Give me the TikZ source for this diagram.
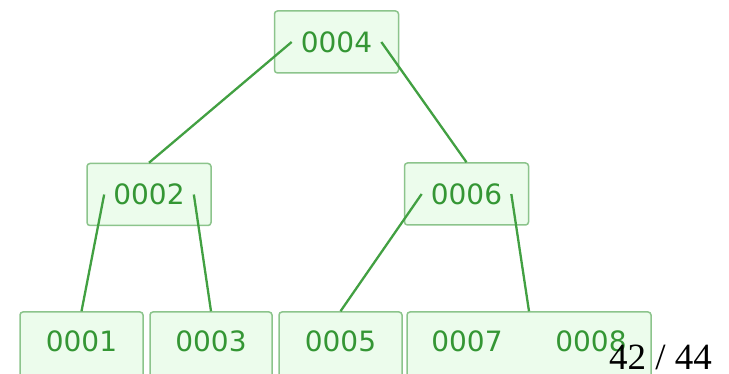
\documentclass[tikz,border=0pt]{standalone}
\usepackage{fontspec}
\setmainfont{Liberation Serif}
\newfontfamily\keyfont{DejaVu Sans}
\usetikzlibrary{positioning}
\definecolor{keygreen}{RGB}{52,150,52}
\definecolor{linkgreen}{RGB}{66,160,66}
\definecolor{boxline}{RGB}{140,196,140}
\definecolor{boxfill}{RGB}{236,252,236}
\tikzset{
  keybox/.style={rectangle, draw=boxline, fill=boxfill, line width=1.5pt,
    rounded corners=3pt, minimum width=124pt, minimum height=62pt, inner sep=0pt},
  leafbox/.style={keybox, minimum height=68pt},
  keytext/.style={font=\keyfont\fontsize{28}{30}\selectfont, text=keygreen,
    inner xsep=9pt, inner ysep=0pt},
  link/.style={linkgreen, line width=2.3pt}
}

\begin{document}
\begin{tikzpicture}[x=1pt, y=-1pt]
  \useasboundingbox (0,0) rectangle (729,374);
  \begin{scope}
  \clip (0,0) rectangle (729,374);

  % Root
  \node[keybox] (b4) at (336.5,42) {};
  \node[keytext] (t4) at (336.5,42) {0004};

  % Inner nodes
  \node[keybox] (b2) at (149,194.5) {};
  \node[keytext] (t2) at (149,194.5) {0002};
  \node[keybox] (b6) at (466.5,194) {};
  \node[keytext] (t6) at (466.5,194) {0006};

  % Leaves
  \node[leafbox, minimum width=123pt] (b1) at (81.5,346) {};
  \node[keytext] (t1) at (81.5,341) {0001};
  \node[leafbox, minimum width=122pt] (b3) at (211,346) {};
  \node[keytext] (t3) at (211,341) {0003};
  \node[leafbox, minimum width=123pt] (b5) at (340.5,346) {};
  \node[keytext] (t5) at (340.5,341) {0005};
  \node[leafbox, minimum width=244pt] (b78) at (529,346) {};
  \node[keytext] (t7) at (467,341) {0007};
  \node[keytext] (t8) at (591,341) {0008};

  % Links
  \draw[link] (t4.west) -- (b2.north);
  \draw[link] (t4.east) -- (b6.north);
  \draw[link] (t2.west) -- (b1.north);
  \draw[link] (t2.east) -- (b3.north);
  \draw[link] (t6.west) -- (b5.north);
  \draw[link] (t6.east) -- (b78.north);
  \end{scope}

  % Page number
  \node[anchor=base west, inner sep=0pt, font=\fontsize{37}{40}\selectfont] (pg) at (609,370) {42 / 44};
\end{tikzpicture}
\end{document}
